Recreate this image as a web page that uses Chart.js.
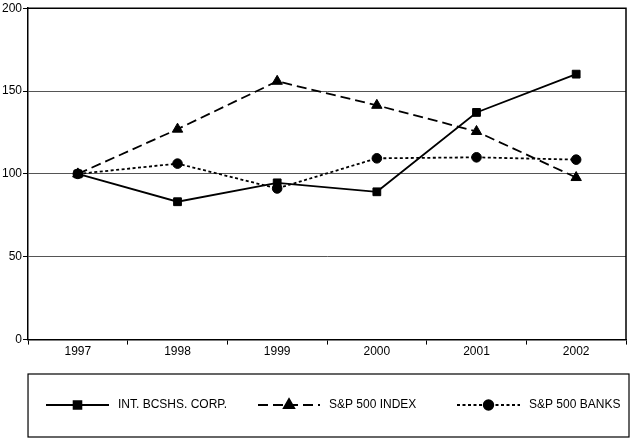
<!DOCTYPE html>
<html><head><meta charset="utf-8">
<script src="https://cdn.jsdelivr.net/npm/chart.js@4.4.1/dist/chart.umd.min.js"></script>
<style>html,body{margin:0;padding:0;background:#fff}#wrap{width:633px;height:438px;position:relative}</style>
</head><body><div id="wrap"><canvas id="c" width="633" height="438"></canvas></div>
<script>
const years = ['1997','1998','1999','2000','2001','2002'];
const intBcshs = [100, 83.2, 94.6, 89.2, 137.1, 160.2];
const sp500 = [100, 127, 155.9, 141.4, 125.6, 97.8];
const sp500Banks = [100, 106.2, 91.2, 109.4, 110, 108.6];
const seriesNames = ['INT. BCSHS. CORP.', 'S&P 500 INDEX', 'S&P 500 BANKS'];
const yTicks = [0, 50, 100, 150, 200];

const FONT = "'Liberation Sans', Arial, Helvetica, sans-serif";

const frame = {
  id: 'frame',
  beforeDatasetsDraw(chart) {
    const {ctx, chartArea: a} = chart;
    ctx.save();
    ctx.strokeStyle = '#000'; ctx.lineWidth = 1.5;
    ctx.beginPath();
    ctx.moveTo(a.left, a.top); ctx.lineTo(a.right, a.top); ctx.lineTo(a.right, a.bottom);
    ctx.stroke();
    ctx.restore();
  },
  afterDraw(chart) {
    const ctx = chart.ctx;
    const a = chart.chartArea;
    ctx.save();
    const boxTop = 374, boxBottom = 437, boxLeft = a.left, boxRight = 629;
    ctx.strokeStyle = '#000'; ctx.lineWidth = 1.2;
    ctx.strokeRect(boxLeft, boxTop, boxRight - boxLeft, boxBottom - boxTop);
    const cy = 405;
    const items = [[46, 109, 118], [258, 320, 329], [457, 520, 529]];
    chart.data.datasets.forEach((ds, i) => {
      const [x0, x1, tx] = items[i];
      ctx.strokeStyle = '#000'; ctx.lineWidth = ds.borderWidth;
      ctx.setLineDash(ds.borderDash || []);
      ctx.beginPath(); ctx.moveTo(x0, cy); ctx.lineTo(x1, cy); ctx.stroke();
      ctx.setLineDash([]);
      ctx.fillStyle = '#000';
      Chart.helpers.drawPoint(ctx, {pointStyle: ds.pointStyle, radius: ds.pointRadius, borderWidth: 1}, (x0 + x1) / 2, cy);
      ctx.fillStyle = '#000';
      ctx.font = '12px ' + FONT;
      ctx.textBaseline = 'middle'; ctx.textAlign = 'left';
      ctx.fillText(ds.label, tx, cy);
    });
    ctx.restore();
  }
};

const mk = (label, data, style, dash, r) => ({
  label, data, borderColor: '#000', backgroundColor: '#000', borderWidth: 1.8,
  borderDash: dash, pointStyle: style, pointRadius: r, pointHoverRadius: r,
  pointBackgroundColor: '#000', pointBorderColor: '#000', pointBorderWidth: 1, tension: 0
});

new Chart(document.getElementById('c'), {
  type: 'line',
  data: {
    labels: years,
    datasets: [
      mk(seriesNames[0], intBcshs, 'rect', [], 5.5),
      mk(seriesNames[1], sp500, 'triangle', [10, 5], 6),
      mk(seriesNames[2], sp500Banks, 'circle', [3, 2.5], 4.8)
    ]
  },
  options: {
    responsive: false, animation: false,
    layout: {padding: {top: 4.5, right: 2, bottom: 79, left: 1}},
    plugins: {legend: {display: false}, tooltip: {enabled: false}},
    scales: {
      x: {
        offset: true,
        grid: {offset: true, drawOnChartArea: false, drawTicks: true, tickLength: 5, tickColor: '#000', lineWidth: 1},
        border: {color: '#000', width: 1.5},
        ticks: {color: '#000', font: {family: FONT, size: 12}, padding: 0}
      },
      y: {
        min: 0, max: 200,
        afterBuildTicks: (s) => { s.ticks = yTicks.map(v => ({value: v})); },
        grid: {color: '#555', lineWidth: 1, tickLength: 5, tickColor: '#000', drawTicks: true},
        border: {color: '#000', width: 1.5},
        ticks: {color: '#000', font: {family: FONT, size: 12}, padding: 1}
      }
    }
  },
  plugins: [frame]
});
</script></body></html>
